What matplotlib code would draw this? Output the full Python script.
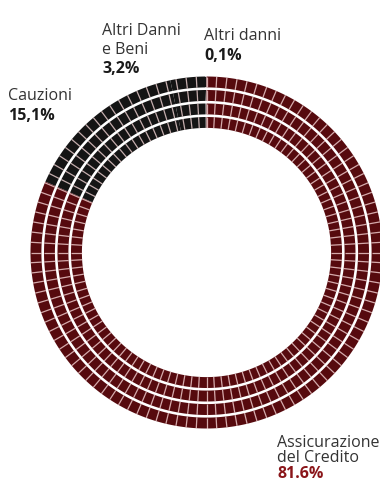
import numpy as np
import matplotlib
matplotlib.use("Agg")
import matplotlib.pyplot as plt
from matplotlib.collections import LineCollection

# ---- data ----
categories = ["Assicurazione del Credito", "Cauzioni", "Altri Danni e Beni", "Altri danni"]
values = [81.6, 15.1, 3.2, 0.1]
name_lines = [["Assicurazione", "del Credito"], ["Cauzioni"], ["Altri Danni", "e Beni"], ["Altri danni"]]
pct_labels = ["81.6%", "15,1%", "3,2%", "0,1%"]
colors = ["#560a0e", "#141414", "#141414", "#141414"]
pct_colors = ["#8a1519", "#1a1a1a", "#1a1a1a", "#1a1a1a"]

plt.rcParams['font.family'] = ['Open Sans', 'DejaVu Sans']

W, H = 380, 488
fig = plt.figure(figsize=(W / 100, H / 100), dpi=100)
ax = fig.add_axes([0, 0, 1, 1])
ax.set_xlim(0, W)
ax.set_ylim(H, 0)
ax.axis('off')

# ring geometry (pixel units)
cx, cy = 206.5, 252.5
rx, ry = 176.0, 176.0
thick = 54.0
n_bands = 4
gap = 2.6
n_cells = 108

band_w = thick / n_bands


def ring_pts(d, t):
    return cx + (rx - d) * np.sin(t), cy - (ry - d) * np.cos(t)


fracs = np.array(values) / np.sum(values)
bounds = np.concatenate([[0], np.cumsum(fracs)]) * 2 * np.pi

for k in range(n_bands):
    d0 = k * band_w
    d1 = (k + 1) * band_w - gap
    for i in range(len(values)):
        t = np.linspace(bounds[i], bounds[i + 1], 300)
        xo, yo = ring_pts(d0, t)
        xi, yi = ring_pts(d1, t[::-1])
        ax.fill(np.concatenate([xo, xi]), np.concatenate([yo, yi]),
                color=colors[i], lw=0)
    # cell separators
    segs = []
    for j in range(n_cells):
        tj = j * 2 * np.pi / n_cells
        x0, y0 = ring_pts(d0, tj)
        x1, y1 = ring_pts(d1, tj)
        segs.append([(x0, y0), (x1, y1)])
    ax.add_collection(LineCollection(segs, colors=(1, 0.88, 0.88, 0.75), linewidths=0.9))

# ---- labels ----
fs = 11.5
lab_color = "#333333"


def label(x, y_base, lines, pct, pc, pitch):
    y = y_base
    for ln in lines:
        ax.text(x, y, ln, fontsize=fs, color=lab_color, va='baseline', ha='left')
        y += pitch
    ax.text(x, y, pct, fontsize=fs, color=pc, fontweight='bold', va='baseline', ha='left')


label(102, 35, name_lines[2], pct_labels[2], pct_colors[2], 19)
label(204, 40, name_lines[3], pct_labels[3], pct_colors[3], 20)
label(8, 100, name_lines[1], pct_labels[1], pct_colors[1], 20)
label(277, 447, name_lines[0], pct_labels[0], pct_colors[0], 15.5)

fig.savefig("out.png", dpi=100, facecolor="white")
